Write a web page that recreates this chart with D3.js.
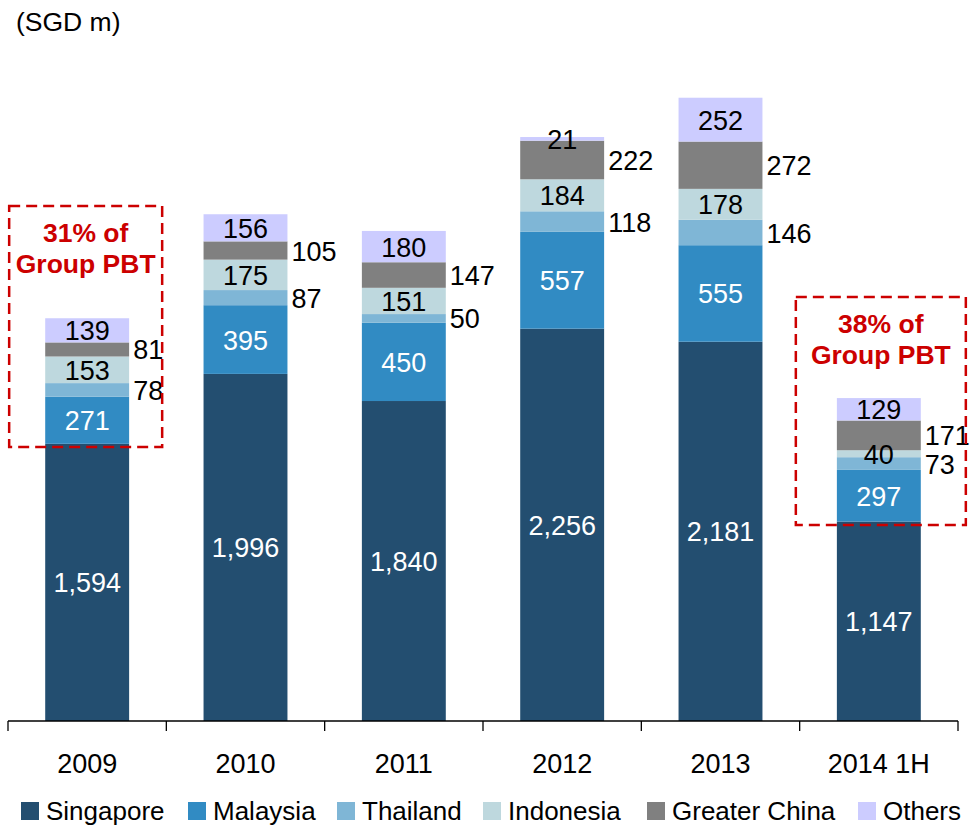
<!DOCTYPE html>
<html>
<head>
<meta charset="utf-8">
<script src="https://cdn.jsdelivr.net/npm/d3@7"></script>
<style>
  body { margin: 0; background: #fff; }
  svg text { font-family: "Liberation Sans", Arial, sans-serif; }
</style>
</head>
<body>
<svg width="978" height="829"></svg>
<script>
// data
const years = ["2009", "2010", "2011", "2012", "2013", "2014 1H"];
const regions = ["Singapore", "Malaysia", "Thailand", "Indonesia", "Greater China", "Others"];
const singapore = [1594, 1996, 1840, 2256, 2181, 1147];
const malaysia = [271, 395, 450, 557, 555, 297];
const thailand = [78, 87, 50, 118, 146, 73];
const indonesia = [153, 175, 151, 184, 178, 40];
const greaterChina = [81, 105, 147, 222, 272, 171];
const others = [139, 156, 180, 21, 252, 129];
const colors = ["#234e70", "#318bc3", "#7fb6d6", "#bed8de", "#808080", "#ccccff"];
const notes = [{ year: "2009", lines: ["31% of", "Group PBT"] }, { year: "2014 1H", lines: ["38% of", "Group PBT"] }];

const series = [singapore, malaysia, thailand, indonesia, greaterChina, others];
const rows = years.map((y, i) => {
    const r = { year: y };
    regions.forEach((k, j) => r[k] = series[j][i]);
    return r;
});

const svg = d3.select("svg");
const baseY = 721;

const x = d3.scaleBand().domain(years).range([8, 958]).paddingInner(0.47).paddingOuter(0.235);
const y = d3.scaleLinear().domain([0, 4146]).range([baseY, 0]);

const stack = d3.stack().keys(regions)(rows);

// bars
const layer = svg.append("g").selectAll("g")
    .data(stack)
    .join("g")
    .attr("fill", (d, i) => colors[i]);

layer.selectAll("rect")
    .data(d => d)
    .join("rect")
    .attr("x", d => x(d.data.year))
    .attr("width", x.bandwidth())
    .attr("y", d => y(d[1]))
    .attr("height", d => y(d[0]) - y(d[1]));

// value labels
const outside = ["Thailand", "Greater China"];
const fmt = d3.format(",");
const labels = svg.append("g").attr("font-size", 27);
stack.forEach((s, i) => {
    const key = s.key;
    s.forEach(d => {
        const mid = (y(d[0]) + y(d[1])) / 2;
        const out = outside.includes(key);
        labels.append("text")
            .attr("x", out ? x(d.data.year) + x.bandwidth() + 4 : x(d.data.year) + x.bandwidth() / 2)
            .attr("y", mid + 10)
            .attr("text-anchor", out ? "start" : "middle")
            .attr("fill", i < 2 ? "#fff" : "#000")
            .text(fmt(d.data[key]));
    });
});

// x axis with ticks between the categories
const step = x.step();
svg.append("line")
    .attr("x1", 8).attr("x2", 958)
    .attr("y1", baseY).attr("y2", baseY)
    .attr("stroke", "#000").attr("stroke-width", 1.3);
d3.range(years.length + 1).forEach(i => {
    svg.append("line")
        .attr("x1", 8 + i * step).attr("x2", 8 + i * step)
        .attr("y1", baseY).attr("y2", baseY + 10)
        .attr("stroke", "#000").attr("stroke-width", 1.3);
});
svg.append("g").selectAll("text")
    .data(years)
    .join("text")
    .attr("x", d => x(d) + x.bandwidth() / 2)
    .attr("y", 773)
    .attr("text-anchor", "middle")
    .attr("font-size", 27)
    .text(d => d);

// unit label
svg.append("text")
    .attr("x", 16).attr("y", 31)
    .attr("font-size", 26.5)
    .text("(SGD m)");

// dashed annotation boxes
const boxes = [{ x0: -78, x1: 75, top: 206, bottom: 447, t: 242 }, { x0: -83, x1: 87, top: 297, bottom: 525, t: 333 }];
notes.forEach((n, i) => {
    const cx = x(n.year) + x.bandwidth() / 2;
    const b = boxes[i];
    svg.append("rect")
        .attr("x", cx + b.x0).attr("y", b.top)
        .attr("width", b.x1 - b.x0).attr("height", b.bottom - b.top)
        .attr("fill", "none")
        .attr("stroke", "#cc0000")
        .attr("stroke-width", 2.5)
        .attr("stroke-dasharray", "11,6");
    n.lines.forEach((l, k) => {
        svg.append("text")
            .attr("x", cx + (b.x0 + b.x1) / 2)
            .attr("y", b.t + k * 31)
            .attr("text-anchor", "middle")
            .attr("font-size", 26.5)
            .attr("font-weight", "bold")
            .attr("fill", "#cc0000")
            .text(l);
    });
});

// legend
const legendX = [21, 188, 337, 483, 647, 858];
const legend = svg.append("g").selectAll("g")
    .data(regions)
    .join("g")
    .attr("transform", (d, i) => `translate(${legendX[i]},802)`);
legend.append("rect")
    .attr("width", 18).attr("height", 18)
    .attr("fill", (d, i) => colors[i]);
legend.append("text")
    .attr("x", 25).attr("y", 18)
    .attr("font-size", 26)
    .text(d => d);
</script>
</body>
</html>
